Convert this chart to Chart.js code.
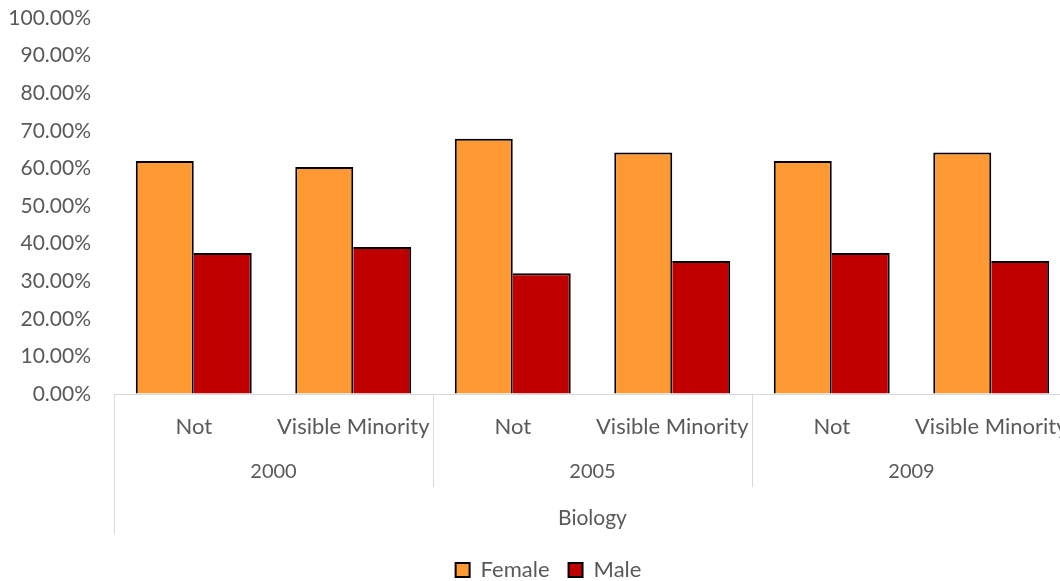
<!DOCTYPE html>
<html><head><meta charset="utf-8">
<script src="https://cdn.jsdelivr.net/npm/chart.js@4"></script>
<style>
html,body{margin:0;padding:0;overflow:hidden;background:#fff;width:1060px;height:581px}
#wrap{width:1071px;height:581px}
</style></head>
<body><div id="wrap"><canvas id="c" width="1071" height="581"></canvas></div>
<script>
const categories = ['Not','Visible Minority','Not','Visible Minority','Not','Visible Minority'];
const years = ['2000','2005','2009'];
const fields = ['Biology'];
const female = [62.0, 60.4, 67.9, 64.2, 62.0, 64.2];
const male = [37.5, 39.1, 32.1, 35.4, 37.5, 35.4];
const yMin = 0, yMax = 100, yStep = 10;

const TXT = '#595959';
const FONT = 'Lato';
const CLEAR = 'rgba(0,0,0,0)';

const separators = {
  id: 'separators',
  afterLayout(chart) {
    const lg = chart.legend;
    if (lg) { lg.left += 13; lg.right += 13; }
  },
  afterDraw(chart) {
    const {ctx} = chart;
    const xs = chart.scales.x, x2 = chart.scales.x2, x3 = chart.scales.x3;
    const top = chart.chartArea.bottom;
    const n = categories.length;
    const w = (xs.right - xs.left) / n;
    const per = n / years.length;
    ctx.save();
    ctx.strokeStyle = '#d9d9d9';
    ctx.lineWidth = 1;
    ctx.beginPath();
    [xs.left, xs.right].forEach(x => {
      const px = Math.round(x) + 0.5;
      ctx.moveTo(px, top); ctx.lineTo(px, x3.top + 48);
    });
    for (let k = 1; k < years.length; k++) {
      const px = Math.round(xs.left + k * per * w) + 0.5;
      ctx.moveTo(px, top); ctx.lineTo(px, x2.bottom + 1);
    }
    ctx.stroke();
    ctx.restore();
  }
};

function xAxis(extra) {
  return Object.assign({
    type: 'category', position: 'bottom', offset: true,
    grid: {display: true, drawOnChartArea: false, drawTicks: true, tickLength: 20, color: CLEAR, tickColor: CLEAR},
    border: {display: false},
  }, extra);
}

new Chart(document.getElementById('c'), {
  type: 'bar',
  data: {
    labels: categories,
    datasets: [
      {label: 'Female', data: female, backgroundColor: '#FF9933', borderColor: '#000000',
       borderWidth: {top: 2, left: 2, right: 2, bottom: 0}, borderSkipped: false,
       barPercentage: 1, categoryPercentage: 0.727, xAxisID: 'x', yAxisID: 'y'},
      {label: 'Male', data: male, backgroundColor: '#C00000', borderColor: '#000000',
       borderWidth: {top: 2, left: 0, right: 2, bottom: 0}, borderSkipped: false,
       barPercentage: 1, categoryPercentage: 0.727, xAxisID: 'x', yAxisID: 'y'}
    ]
  },
  options: {
    responsive: false,
    animation: false,
    devicePixelRatio: 1,
    layout: {padding: {left: 0, right: 0, top: 18, bottom: -10}},
    plugins: {
      legend: {
        position: 'bottom',
        labels: {boxWidth: 14, boxHeight: 14, padding: 19, color: TXT, font: {family: FONT, size: 22},
          generateLabels(chart) {
            return chart.data.datasets.map((ds, i) => ({
              text: ds.label, fillStyle: ds.backgroundColor, strokeStyle: '#000000',
              lineWidth: 2, hidden: false, datasetIndex: i, fontColor: TXT
            }));
          }}
      },
      tooltip: {enabled: false}
    },
    scales: {
      x: xAxis({
        weight: 0,
        border: {display: true, color: '#d9d9d9', width: 1},
        ticks: {color: TXT, font: {family: FONT, size: 22}, padding: 0, maxRotation: 0, autoSkip: false},
        afterFit(s) { s.height = 46; }
      }),
      x2: xAxis({
        weight: 1, labels: years,
        ticks: {color: TXT, font: {family: FONT, size: 20}, padding: 0, maxRotation: 0, autoSkip: false},
        afterFit(s) { s.height = 46; }
      }),
      x3: xAxis({
        weight: 2, labels: fields,
        ticks: {color: TXT, font: {family: FONT, size: 21}, padding: 0, maxRotation: 0, autoSkip: false},
        afterFit(s) { s.height = 54; }
      }),
      y: {
        min: yMin, max: yMax,
        grid: {display: true, drawOnChartArea: false, drawTicks: true, tickLength: 23, color: CLEAR, tickColor: CLEAR},
        border: {display: false},
        ticks: {stepSize: yStep, color: TXT, font: {family: FONT, size: 21}, padding: 0,
                callback: v => v.toFixed(2) + '%'},
        afterFit(s) { s.width = 114; }
      }
    }
  },
  plugins: [separators]
});
</script>
</body></html>
